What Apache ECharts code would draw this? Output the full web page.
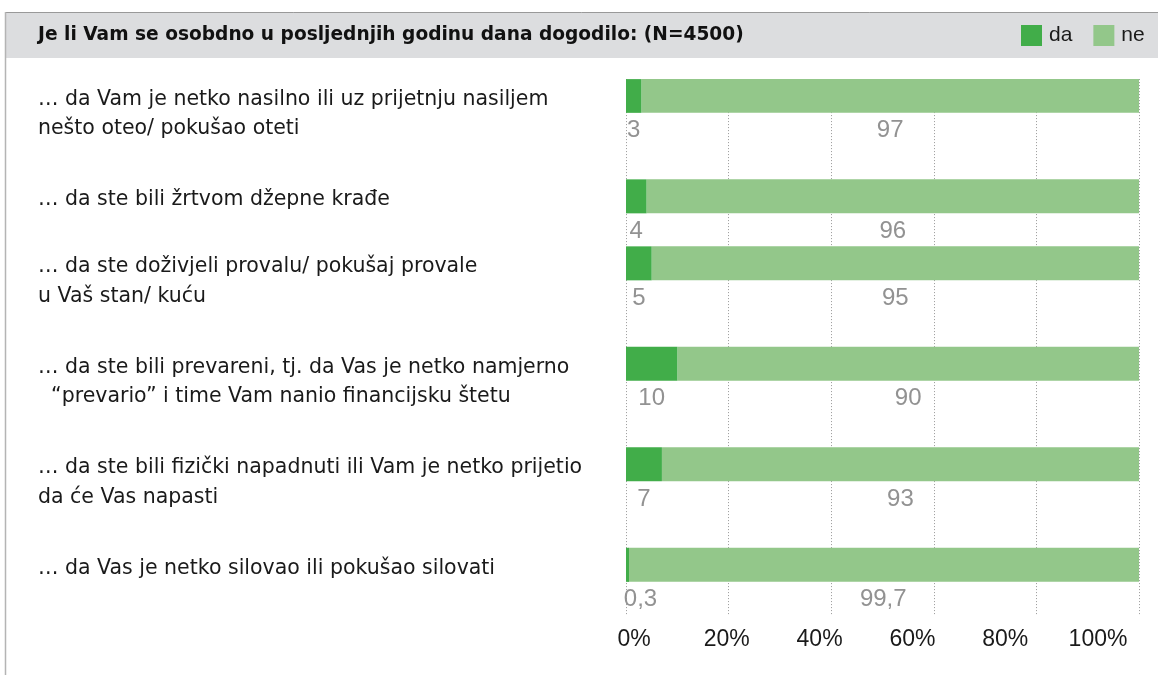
<!DOCTYPE html>
<html>
<head>
<meta charset="utf-8">
<script src="https://cdn.jsdelivr.net/npm/echarts@6/dist/echarts.min.js"></script>
<style>
  html, body { margin: 0; padding: 0; background: #fff; }
  #chart { width: 1158px; height: 675px; }
</style>
</head>
<body>
<div id="chart"></div>
<script>
// data
const questions = [
  '… da Vam je netko nasilno ili uz prijetnju nasiljem\nnešto oteo/ pokušao oteti',
  '… da ste bili žrtvom džepne krađe',
  '… da ste doživjeli provalu/ pokušaj provale\nu Vaš stan/ kuću',
  '… da ste bili prevareni, tj. da Vas je netko namjerno\n  “prevario” i time Vam nanio financijsku štetu',
  '… da ste bili fizički napadnuti ili Vam je netko prijetio\nda će Vas napasti',
  '… da Vas je netko silovao ili pokušao silovati'
]
const daValues = [3, 4, 5, 10, 7, 0.3]
const neValues = [97, 96, 95, 90, 93, 99.7]
const xTickLabels = ['0%', '20%', '40%', '60%', '80%', '100%']

// rows are not evenly spaced in the original, so each row sits in a slot of a finer category axis
const ROW_SLOT = [0, 3, 5, 8, 11, 14]
const SLOT_COUNT = 16

const TEXT_FONT = '"DejaVu Sans", sans-serif'
const NUM_FONT = '"Liberation Sans", Arial, sans-serif'
const DA = '#41ad49'
const NE = '#93c78a'
const GREY = '#929292'

const slotNames = Array(SLOT_COUNT).fill('')
const slotDa = Array(SLOT_COUNT).fill('-')
const slotNe = Array(SLOT_COUNT).fill('-')
ROW_SLOT.forEach((s, i) => {
  slotNames[s] = questions[i]
  // a sliver-thin segment gets its label nudged right so it stays readable
  slotDa[s] = daValues[i] < 1 ? { value: daValues[i], label: { offset: [13, 0] } } : daValues[i]
  slotNe[s] = neValues[i]
})

const fmt = v => String(v).replace('.', ',')
const valueLabel = {
  show: true, position: 'bottom', distance: 6,
  color: GREY, fontSize: 24, fontFamily: NUM_FONT,
  formatter: p => fmt(p.value)
}

const chart = echarts.init(document.getElementById('chart'))
chart.setOption({
  animation: false,
  graphic: [
    { type: 'rect', shape: { x: 5, y: 12, width: 1153, height: 46 }, style: { fill: '#dcdddf' }, z: -1 },
    { type: 'line', shape: { x1: 5, y1: 12.5, x2: 1158, y2: 12.5 }, style: { stroke: '#999', lineWidth: 1 } },
    { type: 'line', shape: { x1: 5.5, y1: 12, x2: 5.5, y2: 675 }, style: { stroke: '#b4b4b4', lineWidth: 1.5 } }
  ],
  title: {
    text: 'Je li Vam se osobdno u posljednjih godinu dana dogodilo: (N=4500)',
    left: 38, top: 26, padding: 0,
    textStyle: { fontFamily: '"DejaVu Sans", sans-serif', fontSize: 18.6, fontWeight: 'bold', color: '#111' }
  },
  legend: {
    left: 1021, top: 25, padding: 0,
    icon: 'rect', itemWidth: 21, itemHeight: 21, itemGap: 21,
    textStyle: { fontFamily: NUM_FONT, fontSize: 21, color: '#1a1a1a', padding: [0, 0, 0, 2] },
    data: ['da', 'ne']
  },
  grid: [
    { left: 626, right: 19, top: 79.1, bottom: 59.9 },
    { left: 634, right: 60, top: 79.1, bottom: 59.9 }
  ],
  xAxis: [
    {
      type: 'value', min: 0, max: 100, interval: 20,
      axisLabel: { show: false }, axisLine: { show: false }, axisTick: { show: false },
      splitLine: { lineStyle: { color: '#999', type: [1, 2], width: 1 } }
    },
    {
      // tick labels sit on their own evenly spaced track, as in the original
      gridIndex: 1, type: 'value', min: 0, max: 100, interval: 20,
      axisLine: { show: false }, axisTick: { show: false }, splitLine: { show: false },
      axisLabel: {
        margin: 13, fontSize: 23, color: '#1a1a1a', fontFamily: NUM_FONT,
        formatter: v => xTickLabels[Math.round(v / 20)]
      }
    }
  ],
  yAxis: [
    {
      type: 'category', inverse: true, data: slotNames,
      axisLine: { show: false }, axisTick: { show: false }, splitLine: { show: false },
      axisLabel: {
        interval: 0, align: 'left', verticalAlign: 'top', margin: 588,
        fontSize: 20.5, lineHeight: 29.5, color: '#1a1a1a', fontFamily: TEXT_FONT,
        padding: [-11, 0, 0, 0]
      }
    },
    { gridIndex: 1, type: 'value', show: false }
  ],
  series: [
    {
      name: 'da', type: 'bar', stack: 'total', barWidth: 34, barMinHeight: 3, z: 3,
      itemStyle: { color: DA }, label: valueLabel, data: slotDa
    },
    {
      name: 'ne', type: 'bar', stack: 'total', barWidth: 34,
      itemStyle: { color: NE }, label: valueLabel, data: slotNe
    }
  ]
})
window.addEventListener('resize', () => chart.resize())
</script>
</body>
</html>
